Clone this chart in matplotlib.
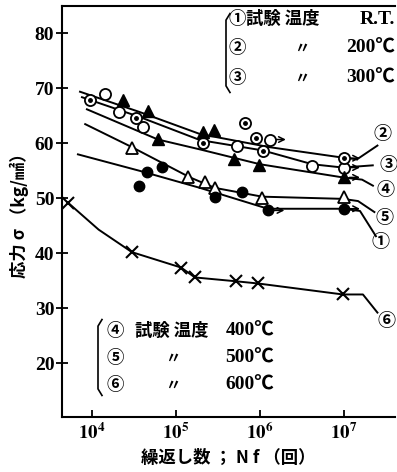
import matplotlib.pyplot as plt
from matplotlib.lines import Line2D

plt.rcParams['font.family'] = ['Liberation Serif', 'Noto Sans CJK JP']
plt.rcParams['mathtext.fontset'] = 'stix'

# test points (cycles, stress kg/mm2)
n_dot = [9.46e3, 3.34e4, 2.08e5, 6.62e5, 8.95e5, 1.09e6, 1.0e7]
s_dot = [67.9, 64.6, 60.0, 63.7, 61.0, 58.7, 57.3]
n_ocirc = [1.43e4, 2.11e4, 4.02e4, 5.28e5, 1.31e6, 4.12e6, 1.0e7]
s_ocirc = [68.9, 65.7, 62.9, 59.6, 60.7, 55.9, 55.6]
n_ftri = [2.36e4, 4.68e4, 6.15e4, 2.08e5, 2.83e5, 4.94e5, 9.8e5, 1.0e7]
s_ftri = [67.9, 65.8, 60.8, 62.0, 62.4, 57.1, 56.1, 53.8]
n_otri = [2.97e4, 1.40e5, 2.21e5, 2.91e5, 1.05e6, 1.0e7]
s_otri = [59.1, 53.9, 53.0, 51.9, 50.1, 50.2]
n_fcirc = [3.66e4, 4.55e4, 6.76e4, 2.91e5, 6.05e5, 1.26e6, 1.0e7]
s_fcirc = [52.2, 54.8, 55.7, 50.2, 51.2, 47.8, 48.1]
n_x = [5.18e3, 2.99e4, 1.15e5, 1.68e5, 5.18e5, 9.46e5, 9.7e6]
s_x = [49.2, 40.2, 37.4, 35.6, 34.9, 34.5, 32.5]

# run-out arrows
n_arrow = [1.31e6, 1.26e6, 1.0e7, 1.0e7, 1.0e7, 1.0e7]
s_arrow = [60.7, 47.8, 57.3, 55.6, 53.8, 48.1]

# fitted S-N curves
n_c2 = [7.2e3, 3.7e4, 1.93e5, 1.31e6, 9.7e6, 1.43e7]
s_c2 = [69.4, 65.7, 61.7, 59.3, 57.4, 57.1]
n_c3 = [7.6e3, 3.7e4, 1.93e5, 1.09e6, 4.2e6, 9.7e6, 2.2e7]
s_c3 = [68.4, 64.8, 60.6, 58.7, 56.2, 55.6, 56.0]
n_c4 = [8.7e3, 6.1e4, 1.93e5, 1.0e6, 9.7e6, 1.64e7, 2.21e7]
s_c4 = [66.2, 60.7, 58.9, 56.2, 53.8, 53.4, 52.3]
n_c5 = [8.3e3, 3.0e4, 1.47e5, 2.9e5, 1.06e6, 9.7e6, 1.47e7, 2.3e7]
s_c5 = [63.5, 59.3, 53.8, 51.9, 50.3, 49.9, 49.5, 47.5]
n_c1 = [6.8e3, 3.7e4, 1.93e5, 1.24e6, 9.7e6, 1.55e7, 2.4e7]
s_c1 = [58.0, 55.0, 51.9, 48.1, 48.1, 47.7, 43.1]
n_c6 = [5.18e3, 1.2e4, 2.99e4, 1.15e5, 1.68e5, 5.18e5, 9.46e5, 9.7e6, 1.68e7, 2.5e7]
s_c6 = [49.2, 44.3, 40.2, 37.4, 35.6, 34.9, 34.5, 32.5, 32.5, 29.2]
n_lead2 = [1.43e7, 2.5e7]
s_lead2 = [57.1, 59.6]

curve_labels = ['①', '②', '③', '④', '⑤', '⑥']
label_n = [2.69e7, 2.89e7, 3.34e7, 3.08e7, 3.02e7, 3.22e7]
label_s = [42.2, 61.8, 56.2, 51.6, 46.5, 27.7]

legend_top = [('①', '試験温度', 'R.T.'), ('②', '〃', '200℃'), ('③', '〃', '300℃')]
legend_bot = [('④', '試験温度', '400℃'), ('⑤', '〃', '500℃'), ('⑥', '〃', '600℃')]

fig = plt.figure(figsize=(3.97, 4.72), dpi=100)
ax = fig.add_axes([62 / 397, 1 - 417 / 472, 333 / 397, 411 / 472])

lw = 1.4
for n, s in [(n_c2, s_c2), (n_c3, s_c3), (n_c4, s_c4), (n_c5, s_c5),
             (n_c1, s_c1), (n_c6, s_c6), (n_lead2, s_lead2)]:
    ax.plot(n, s, color='black', lw=lw, zorder=2)

ax.plot(n_ocirc, s_ocirc, 'o', ms=8, mfc='white', mec='black', mew=1.3, zorder=4)
ax.plot(n_dot, s_dot, 'o', ms=8, mfc='white', mec='black', mew=1.3, zorder=4)
ax.plot(n_dot, s_dot, 'o', ms=2.5, color='black', zorder=5)
ax.plot(n_ftri, s_ftri, '^', ms=8.5, color='black', zorder=4)
ax.plot(n_otri, s_otri, '^', ms=8.5, mfc='white', mec='black', mew=1.3, zorder=4)
ax.plot(n_fcirc, s_fcirc, 'o', ms=7.5, color='black', zorder=4)
ax.plot(n_x, s_x, 'x', ms=8, color='black', mew=1.5, zorder=4)

for n, s in zip(n_arrow, s_arrow):
    ax.annotate('', xy=(n * 1.55, s), xytext=(n, s),
                arrowprops=dict(arrowstyle='->', lw=1.1, color='black',
                                shrinkA=4, shrinkB=0), zorder=3)

for lab, n, s in zip(curve_labels, label_n, label_s):
    ax.text(n, s, lab, fontsize=13, ha='center', va='center',
            family=['Noto Sans CJK JP'], fontweight='bold')

ax.set_xscale('log')
ax.set_xlim(10 ** 3.643, 10 ** 7.607)
ax.set_ylim(10.2, 85)
ax.set_yticks([20, 30, 40, 50, 60, 70, 80])
ax.set_xticks([1e4, 1e5, 1e6, 1e7])
ax.set_xticklabels([r'$\mathbf{10^{4}}$', r'$\mathbf{10^{5}}$',
                    r'$\mathbf{10^{6}}$', r'$\mathbf{10^{7}}$'], fontsize=13.5)
ax.minorticks_off()
ax.tick_params(axis='y', direction='inout', length=9, width=1.3, pad=1,
               labelsize=14)
ax.tick_params(axis='x', direction='in', length=5, width=1.3, pad=4)
for lbl in ax.get_yticklabels():
    lbl.set_fontweight('bold')
ax.spines['right'].set_visible(False)
for sp in ['left', 'bottom', 'top']:
    ax.spines[sp].set_linewidth(1.5)

ax.set_xlabel('繰返し数 ； N f （回）', fontsize=12.5, fontweight='bold',
              family=['Noto Sans CJK JP'], labelpad=4)
ax.yaxis.set_label_coords(-0.1, 0.52)
ax.set_ylabel('応力 σ （kg/㎟）', fontsize=12.5, fontweight='bold',
              family=['Noto Sans CJK JP'])


def ax_pt(px, py):
    return (px - 62) / 333, (417 - py) / 411


def legend_block(rows, x_num, x_word, x_mark, x_val, ys, bx, by0, by1):
    for (num, word, val), py in zip(rows, ys):
        ax.text(*ax_pt(x_num, py), num, transform=ax.transAxes, fontsize=12.5,
                ha='left', va='center', family=['Noto Sans CJK JP'],
                fontweight='bold')
        if word == '〃':
            ax.text(*ax_pt(x_mark, py), word, transform=ax.transAxes,
                    fontsize=11, ha='center', va='center',
                    family=['Noto Sans CJK JP'], fontweight='bold')
        else:
            ax.text(*ax_pt(x_word, py), '試験 温度', transform=ax.transAxes,
                    fontsize=12.5, ha='left', va='center',
                    family=['Noto Sans CJK JP'], fontweight='bold')
        ax.text(*ax_pt(x_val, py), val, transform=ax.transAxes, fontsize=14,
                ha='right', va='center', fontweight='bold')
    x0, yt = ax_pt(bx, by0)
    x1, yb = ax_pt(bx + 4, by1)
    ax.add_line(Line2D([x1, x0, x0, x1], [yt + 0.006, yt - 0.01, yb + 0.01, yb - 0.006],
                       transform=ax.transAxes, color='black', lw=1.2))


legend_block(legend_top, 229, 246, 302, 395, [19, 48, 78], 226, 16, 90)
legend_block(legend_bot, 107, 135, 173, 274, [331, 358, 385], 98, 322, 393)

fig.savefig('out.png', dpi=100)
